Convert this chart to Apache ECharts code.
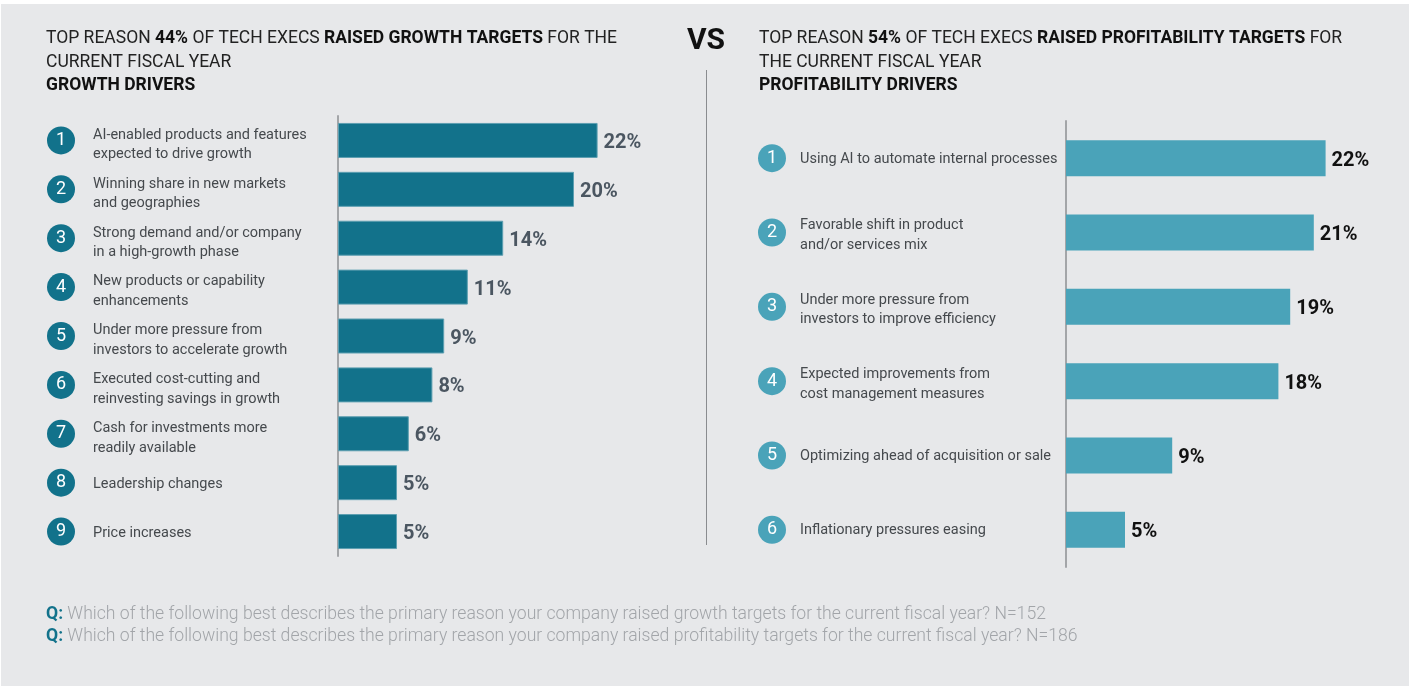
<!DOCTYPE html>
<html>
<head>
<meta charset="utf-8">
<script src="https://cdn.jsdelivr.net/npm/echarts@6/dist/echarts.min.js"></script>
<style>
  html, body { margin: 0; padding: 0; background: #ffffff; }
  #chart { position: absolute; left: 1px; top: 4px; width: 1408px; height: 682px; }
</style>
</head>
<body>
<div id="chart"></div>
<script>
// Growth drivers (left panel)
const growthCategories = [
  'AI-enabled products and features\nexpected to drive growth',
  'Winning share in new markets\nand geographies',
  'Strong demand and/or company\nin a high-growth phase',
  'New products or capability\nenhancements',
  'Under more pressure from\ninvestors to accelerate growth',
  'Executed cost-cutting and\nreinvesting savings in growth',
  'Cash for investments more\nreadily available',
  'Leadership changes',
  'Price increases'
];
const growthValues = [22, 20, 14, 11, 9, 8, 6, 5, 5];

// Profitability drivers (right panel)
const profitCategories = [
  'Using AI to automate internal processes',
  'Favorable shift in product\nand/or services mix',
  'Under more pressure from\ninvestors to improve efficiency',
  'Expected improvements from\ncost management measures',
  'Optimizing ahead of acquisition or sale',
  'Inflationary pressures easing'
];
const profitValues = [22, 21, 19, 18, 9, 5];

const headlines = {
  left: ['44%', 'RAISED GROWTH TARGETS', 'GROWTH DRIVERS'],
  right: ['54%', 'RAISED PROFITABILITY TARGETS', 'PROFITABILITY DRIVERS']
};
const footnotes = [
  'Which of the following best describes the primary reason your company raised growth targets for the current fiscal year? N=152',
  'Which of the following best describes the primary reason your company raised profitability targets for the current fiscal year? N=186'
];

const DARK = '#12728b';
const LIGHT = '#4aa3b9';
const TEXT = '#45494d';
const FONT = 'Roboto, "Noto Sans", sans-serif';

const chart = echarts.init(document.getElementById('chart'));

// offsets below are relative to the chart div (shifted 1px right, 4px down)
const OX = -1, OY = -4;

function circleAxis(gridIndex, cats, color, centerX, axisX) {
  return {
    type: 'category', gridIndex: gridIndex, data: cats, inverse: true,
    position: 'left',
    axisLine: { show: false }, axisTick: { show: false },
    axisLabel: {
      margin: axisX - centerX, align: 'center',
      formatter: function (v, i) { return '{c|' + (i + 1) + '}'; },
      rich: {
        c: {
          width: 28, height: 28, borderRadius: 14, backgroundColor: color,
          color: '#ffffff', align: 'center', verticalAlign: 'middle',
          fontSize: 18, fontFamily: FONT, lineHeight: 28
        }
      }
    }
  };
}

// a thin spacer line above each label nudges the text block slightly downward
function textAxis(gridIndex, cats, textX, axisX, gapOne, gapTwo) {
  return {
    type: 'category', gridIndex: gridIndex, data: cats, inverse: true,
    position: 'left',
    axisLine: { show: true, lineStyle: { color: '#a3a5a8', width: 2 } },
    axisTick: { show: false },
    axisLabel: {
      margin: axisX - textX, align: 'left',
      formatter: function (v) {
        const lines = v.split('\n');
        const gap = lines.length > 1 ? 'g2' : 'g1';
        return '{' + gap + '| }\n' + lines.map(function (l) { return '{t|' + l + '}'; }).join('\n');
      },
      rich: {
        t: { color: TEXT, fontSize: 14.5, fontFamily: FONT, lineHeight: 19.5 },
        g1: { fontSize: 1, lineHeight: gapOne, height: gapOne },
        g2: { fontSize: 1, lineHeight: gapTwo, height: gapTwo }
      }
    }
  };
}

const leftAxisX = 338, rightAxisX = 1066;

chart.setOption({
  backgroundColor: '#e7e8ea',
  animation: false,
  grid: [
    { left: leftAxisX + OX, top: 116 + OY, width: 354, height: 440, outerBoundsMode: 'none', containLabel: false },
    { left: rightAxisX + OX, top: 121 + OY, width: 354, height: 446, outerBoundsMode: 'none', containLabel: false }
  ],
  xAxis: [
    { type: 'value', gridIndex: 0, min: 0, max: 30, show: false },
    { type: 'value', gridIndex: 1, min: 0, max: 30, show: false }
  ],
  yAxis: [
    textAxis(0, growthCategories, 93, leftAxisX, 4, 9),
    circleAxis(0, growthCategories, DARK, 61, leftAxisX),
    textAxis(1, profitCategories, 800, rightAxisX, 2, 6),
    circleAxis(1, profitCategories, LIGHT, 772, rightAxisX)
  ],
  series: [
    {
      type: 'bar', xAxisIndex: 0, yAxisIndex: 0, data: growthValues,
      barWidth: 35,
      itemStyle: { color: DARK, borderColor: '#5d9fb1', borderWidth: 1 },
      label: {
        show: true, position: 'right', distance: 6, offset: [0, 2.5], formatter: '{c}%',
        color: '#4b5661', fontWeight: 'bold', fontSize: 20, fontFamily: FONT
      }
    },
    {
      type: 'bar', xAxisIndex: 1, yAxisIndex: 2, data: profitValues,
      barWidth: 36,
      itemStyle: { color: LIGHT },
      label: {
        show: true, position: 'right', distance: 6, offset: [0, 2.5], formatter: '{c}%',
        color: '#111111', fontWeight: 'bold', fontSize: 20, fontFamily: FONT
      }
    }
  ],
  graphic: [
    // headline, left panel
    {
      type: 'text', left: 46 + OX, top: 27 + OY,
      style: {
        text: 'TOP REASON {b|' + headlines.left[0] + '} OF TECH EXECS {b|' + headlines.left[1] + '} FOR THE\nCURRENT FISCAL YEAR\n{b|' + headlines.left[2] + '}',
        fill: '#222', font: '17.5px ' + FONT, lineHeight: 23.5,
        rich: { b: { fontWeight: 'bold', fill: '#111', fontSize: 17.5, fontFamily: FONT, lineHeight: 23.5 } }
      }
    },
    // headline, right panel
    {
      type: 'text', left: 759 + OX, top: 27 + OY,
      style: {
        text: 'TOP REASON {b|' + headlines.right[0] + '} OF TECH EXECS {b|' + headlines.right[1] + '} FOR\nTHE CURRENT FISCAL YEAR\n{b|' + headlines.right[2] + '}',
        fill: '#222', font: '17.5px ' + FONT, lineHeight: 23.5,
        rich: { b: { fontWeight: 'bold', fill: '#111', fontSize: 17.5, fontFamily: FONT, lineHeight: 23.5 } }
      }
    },
    // VS separator
    {
      type: 'text', left: 687 + OX, top: 26 + OY,
      style: { text: 'VS', fill: '#111', font: 'bold 30px ' + FONT }
    },
    {
      type: 'line', shape: { x1: 706.5 + OX, y1: 70 + OY, x2: 706.5 + OX, y2: 545 + OY },
      style: { stroke: '#8a8c8f', lineWidth: 1 }
    },
    // question footnotes
    {
      type: 'text', left: 46 + OX, top: 604 + OY,
      style: {
        text: '{q|Q:} ' + footnotes[0] + '\n{q|Q:} ' + footnotes[1],
        fill: '#a2a5a9', font: '300 17.6px ' + FONT, lineHeight: 22,
        rich: { q: { fill: DARK, fontWeight: 'bold', fontSize: 17.6, fontFamily: FONT, lineHeight: 22 } }
      }
    }
  ]
});
</script>
</body>
</html>
